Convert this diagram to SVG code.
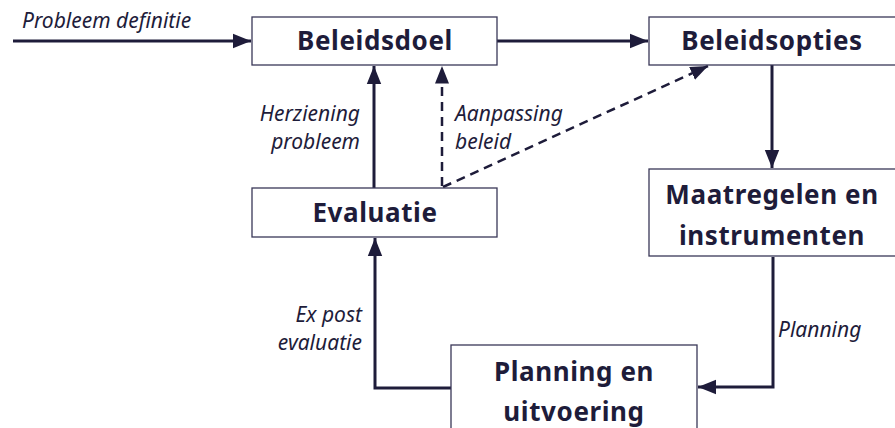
<svg xmlns="http://www.w3.org/2000/svg" width="895" height="428" viewBox="0 0 895 428">
<style>
.box{fill:#fff;stroke:#3a3858;stroke-width:1.3}
.t{font-family:"Noto Sans","Open Sans",sans-serif;font-weight:bold;font-size:26px;fill:#1e1c3a;text-anchor:middle;letter-spacing:0.6px}
.l{font-family:"Noto Sans","Open Sans",sans-serif;font-style:italic;font-size:21px;fill:#1e1c3a}
.c{fill:none;stroke:#1e1c3a;stroke-width:3}
.d{fill:none;stroke:#1e1c3a;stroke-width:2.5;stroke-dasharray:9 6}
</style>
<defs>
<marker id="ah" viewBox="0 0 10 10" refX="10" refY="5" markerWidth="6" markerHeight="6" markerUnits="strokeWidth" orient="auto">
<path d="M0,1 L10,5 L0,9 Z" fill="#1e1c3a"/>
</marker>
<marker id="ahd" viewBox="0 0 10 10" refX="10" refY="5" markerWidth="7" markerHeight="7" markerUnits="strokeWidth" orient="auto">
<path d="M0,1 L10,5 L0,9 Z" fill="#1e1c3a"/>
</marker>
</defs>
<g id="connectors">
<line class="c" x1="13" y1="41" x2="251" y2="41" marker-end="url(#ah)"/>
<line class="c" x1="497" y1="41" x2="648" y2="41" marker-end="url(#ah)"/>
<line class="c" x1="772" y1="65" x2="772" y2="168" marker-end="url(#ah)"/>
<polyline class="c" points="773,257 773,387 698,387" marker-end="url(#ah)"/>
<polyline class="c" points="451,388 375,388 375,238" marker-end="url(#ah)"/>
<line class="c" x1="374" y1="188" x2="374" y2="66" marker-end="url(#ah)"/>
<line class="d" x1="442" y1="186" x2="442" y2="66" marker-end="url(#ahd)"/>
<line class="d" x1="443" y1="187" x2="708" y2="66" marker-end="url(#ahd)"/>
<text class="l" x="22" y="28">Probleem definitie</text>
<text class="l" x="360" y="121" text-anchor="end">Herziening</text>
<text class="l" x="360" y="149" text-anchor="end">probleem</text>
<text class="l" x="455" y="121">Aanpassing</text>
<text class="l" x="455" y="149">beleid</text>
<text class="l" x="362" y="322" text-anchor="end">Ex post</text>
<text class="l" x="362" y="350" text-anchor="end">evaluatie</text>
<text class="l" x="778" y="337">Planning</text>
</g>
<g id="beleidsdoel">
<rect class="box" x="252" y="17" width="245" height="48"/>
<text class="t" x="375" y="50">Beleidsdoel</text>
</g>
<g id="beleidsopties">
<rect class="box" x="649" y="17" width="260" height="48"/>
<text class="t" x="772" y="50">Beleidsopties</text>
</g>
<g id="maatregelen">
<rect class="box" x="649" y="169" width="260" height="87"/>
<text class="t" x="772" y="204">Maatregelen en</text>
<text class="t" x="772" y="245">instrumenten</text>
</g>
<g id="evaluatie">
<rect class="box" x="252" y="188" width="245" height="49"/>
<text class="t" x="375" y="222">Evaluatie</text>
</g>
<g id="planning">
<rect class="box" x="451" y="345" width="246" height="100"/>
<text class="t" x="574" y="381">Planning en</text>
<text class="t" x="574" y="421">uitvoering</text>
</g>
</svg>
